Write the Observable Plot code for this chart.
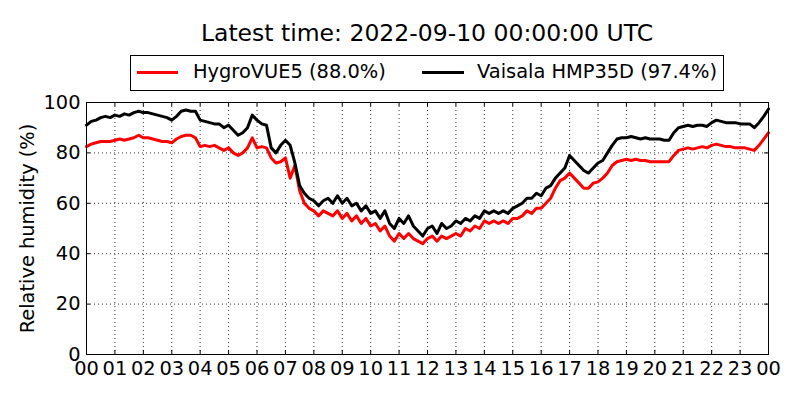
<!DOCTYPE html>
<html>
<head>
<meta charset="utf-8">
<script src="https://cdn.jsdelivr.net/npm/d3@7"></script>
<script src="https://cdn.jsdelivr.net/npm/@observablehq/plot@0.6"></script>
<style>
  html, body { margin: 0; padding: 0; background: #fff; }
  #wrap { position: relative; width: 800px; height: 400px; font-family: "DejaVu Sans", sans-serif; color: #000; }
  #header { position: relative; width: 800px; height: 90px; }
  #title { position: absolute; left: 86px; width: 682px; top: 22px; text-align: center; font-size: 23.5px; line-height: 23px; white-space: nowrap; }
  #legend { position: absolute; left: 130px; top: 55px; width: 592px; height: 34px; border: 1px solid #000; font-size: 19.4px; }
  .sw { position: absolute; height: 3px; top: 15px; }
  .lt { position: absolute; top: 5px; line-height: 22px; white-space: nowrap; }
  #chart svg { display: block; }
</style>
</head>
<body>
<div id="wrap">
  <div id="header">
    <div id="title"></div>
    <div id="legend"></div>
  </div>
  <div id="chart"></div>
</div>
<script>
const titleText = "Latest time: 2022-09-10 00:00:00 UTC";
const seriesNames = ["HygroVUE5 (88.0%)", "Vaisala HMP35D (97.4%)"];
const seriesColors = ["#ff0000", "#000000"];
const yLabel = "Relative humidity (%)";
const xTicks = d3.range(0, 25);
const xTickLabels = ["00","01","02","03","04","05","06","07","08","09","10","11","12","13","14","15","16","17","18","19","20","21","22","23","00"];
const yTicks = [0, 20, 40, 60, 80, 100];

// 10-minute samples, hours since 00:00 UTC
const times = d3.range(0, 145).map(i => i / 6);

const hygrovue = [
  82.5, 83.5, 84, 84.5, 84.5, 84.5,
  85, 85.5, 85, 85.5, 86, 87,
  86, 86, 85.5, 85, 84.5, 84.5,
  84, 85.5, 86.5, 87, 87, 86,
  82.5, 83, 82.5, 83, 82, 81,
  82, 80, 79, 80, 82, 86,
  82, 82.5, 82, 78, 76, 76.5,
  78, 70, 75, 65, 60, 58,
  57, 55, 57, 56, 55, 57,
  54, 56, 53, 55, 52, 54,
  51, 52, 49, 51, 47, 45,
  48, 46, 48, 46, 45, 44,
  46, 47, 45, 47, 46, 47,
  48, 47, 50, 49, 51, 50,
  53, 52, 53, 52, 53, 52,
  54, 54, 55, 57, 56, 58,
  58, 60, 62, 66, 69, 70,
  72, 70, 68, 66, 66, 68,
  68.5, 70, 72, 75, 76.5, 77,
  77.5, 77, 77.5, 77, 77, 76.5,
  76.5, 76.5, 76.5, 76.5, 79, 81,
  81.5, 82, 81.5, 82, 82.5, 82,
  83, 83.5, 83, 82.5, 82.5, 82,
  82, 82, 81.5, 81, 83, 85.5,
  88
];

const vaisala = [
  91, 92.5, 93, 94, 94.5, 94,
  95, 94.5, 95.5, 95, 96, 96.5,
  96, 96, 95.5, 95, 94.5, 94,
  93, 94.5, 96.5, 97, 96.5, 96.5,
  93, 92.5, 92, 91.5, 91.5, 90,
  91, 89, 87, 88, 90, 95,
  93, 91.5, 91, 82, 80, 83,
  85, 83, 76, 67, 64, 62,
  61, 59, 61, 62, 60, 63,
  60, 62, 59, 60, 57, 59,
  56, 57, 54, 57, 52, 50,
  54, 52, 55, 51, 49, 47,
  50, 51, 48, 52, 50, 51,
  53, 52, 54, 53, 55, 54,
  57, 56, 57, 56, 57, 56,
  58, 59, 60, 62, 62, 64,
  63, 66, 67, 70, 72, 74,
  79, 77, 75, 73, 72, 74,
  76, 77, 80, 83, 85.5, 86,
  86, 86.5, 86, 85.5, 86, 85.5,
  85.5, 85.5, 85, 85, 88, 90,
  90.5, 91, 90.5, 91, 91, 90.5,
  92, 93, 92.5, 92, 92, 92,
  91.5, 91.5, 91.5, 90, 92, 94.5,
  97.4
];

// header
document.getElementById("title").textContent = titleText;
const legend = document.getElementById("legend");
const legendLayout = [{sw: 6, sww: 41, tx: 62}, {sw: 291, sww: 42, tx: 346}];
seriesNames.forEach((name, i) => {
  const s = document.createElement("div");
  s.className = "sw";
  s.style.left = legendLayout[i].sw + "px";
  s.style.width = legendLayout[i].sww + "px";
  s.style.background = seriesColors[i];
  legend.appendChild(s);
  const t = document.createElement("div");
  t.className = "lt";
  t.style.left = legendLayout[i].tx + "px";
  t.textContent = name;
  legend.appendChild(t);
});

const red = times.map((t, i) => ({t, v: hygrovue[i]}));
const blk = times.map((t, i) => ({t, v: vaisala[i]}));
const gridY = yTicks.slice(1, -1);
const gridX = xTicks.slice(1, -1);

const chart = Plot.plot({
  width: 800,
  height: 310,
  marginTop: 12,
  marginBottom: 46,
  marginLeft: 86,
  marginRight: 32,
  style: {fontFamily: "DejaVu Sans, sans-serif", fontSize: "19.4px", color: "#000", background: "#fff"},
  x: {domain: [0, 24]},
  y: {domain: [0, 100]},
  marks: [
    Plot.ruleX(gridX, {x: d => d, stroke: "#000", strokeWidth: 1, strokeDasharray: "1,3", strokeOpacity: 0.8}),
    Plot.ruleY(gridY, {y: d => d, stroke: "#000", strokeWidth: 1, strokeDasharray: "1,3", strokeOpacity: 0.8}),
    Plot.line(red, {x: "t", y: "v", stroke: seriesColors[0], strokeWidth: 3, strokeLinejoin: "round"}),
    Plot.line(blk, {x: "t", y: "v", stroke: seriesColors[1], strokeWidth: 3, strokeLinejoin: "round"}),
    // inward ticks on all four sides
    Plot.ruleX(xTicks, {x: d => d, y1: 0, y2: 1.6, stroke: "#000"}),
    Plot.ruleX(xTicks, {x: d => d, y1: 98.4, y2: 100, stroke: "#000"}),
    Plot.ruleY(yTicks, {y: d => d, x1: 0, x2: 0.14, stroke: "#000"}),
    Plot.ruleY(yTicks, {y: d => d, x1: 23.86, x2: 24, stroke: "#000"}),
    Plot.frame({stroke: "#000", strokeWidth: 1}),
    Plot.axisX({ticks: xTicks, tickSize: 0, tickPadding: 7, tickFormat: (d, i) => xTickLabels[i], label: null, fontSize: 19.4}),
    Plot.axisY({ticks: yTicks, tickSize: 0, tickPadding: 6, label: yLabel, labelAnchor: "center", labelArrow: "none", labelOffset: 66, fontSize: 19.4})
  ]
});
document.getElementById("chart").appendChild(chart);
</script>
</body>
</html>
